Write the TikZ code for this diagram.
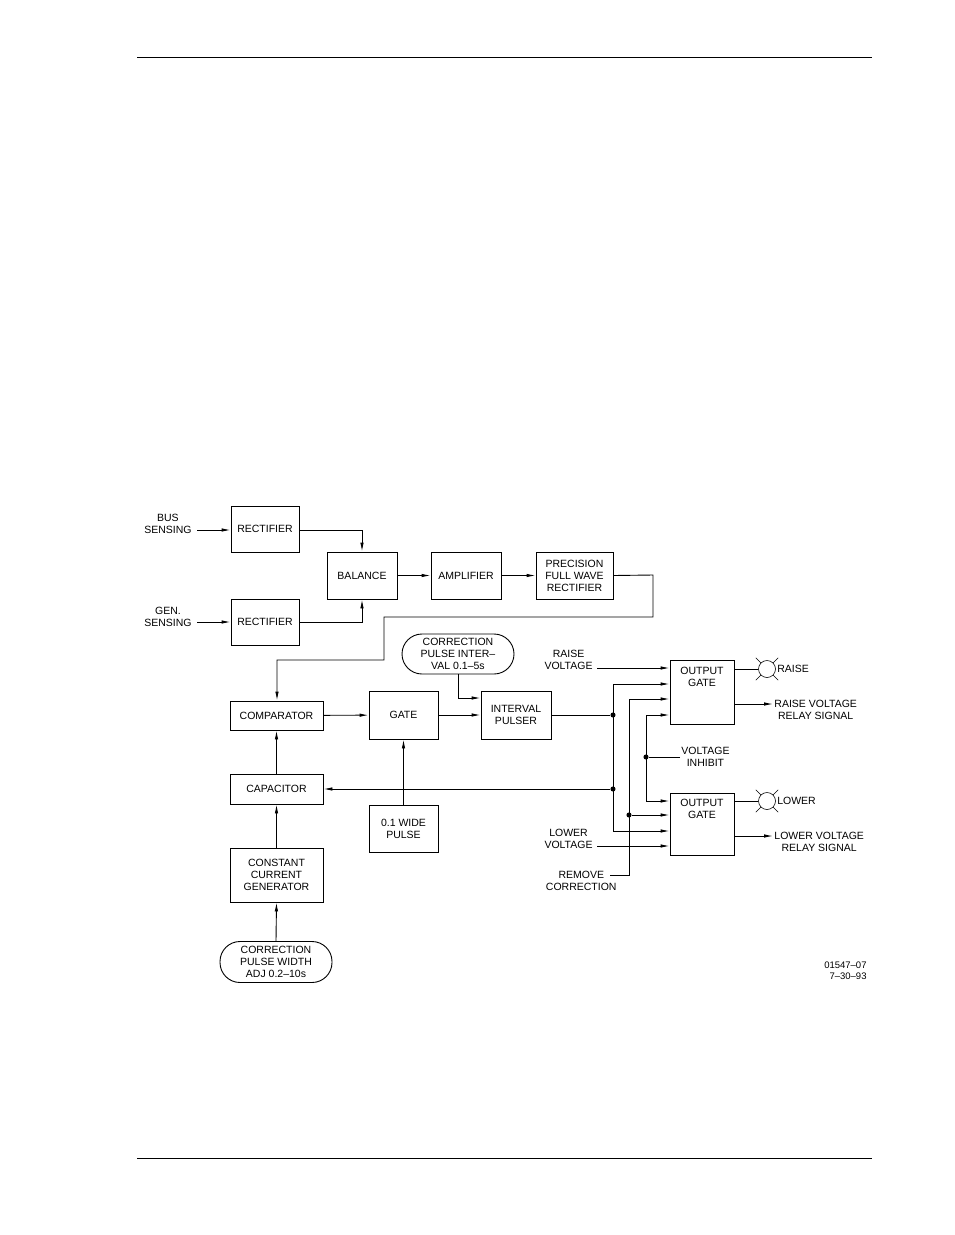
\documentclass[tikz,border=0pt]{standalone}
\usepackage{fontspec}
\setmainfont{Liberation Sans}
\usetikzlibrary{arrows.meta}
\begin{document}
\begin{tikzpicture}[x=1pt,y=-1pt,line width=0.9pt,
  box/.style={draw,minimum width=#1,inner sep=0pt,align=center,font=\fontsize{10.5}{12}\selectfont},
  lbl/.style={align=center,font=\fontsize{10.5}{12}\selectfont,inner sep=1pt},
  ar/.style={-{Latex[length=9pt,width=3.5pt]}},
  dot/.style={circle,fill,inner sep=1.8pt}]
\useasboundingbox (0,0) rectangle (954,1235);
\draw[line width=0.6pt] (137,57) -- (872,57);
\draw[line width=0.6pt] (137,1158) -- (872,1158);
\newcommand{\bx}[6]{\node[box=#4-#2, minimum height=#5-#3] (#1) at ({(#2+#4)/2},{(#3+#5)/2}) {#6};}
\bx{r1}{231}{506}{299}{552}{RECTIFIER}
\bx{r2}{231}{599}{299}{645}{RECTIFIER}
\bx{bal}{327}{552}{397}{599}{BALANCE}
\bx{amp}{431}{552}{501}{599}{AMPLIFIER}
\bx{pre}{536}{552}{613}{599}{PRECISION\\FULL WAVE\\RECTIFIER}
\bx{cmp}{230}{701}{323}{730}{COMPARATOR}
\bx{gate}{369}{691}{438}{739}{GATE}
\bx{ip}{481}{691}{551}{739}{INTERVAL\\PULSER}
\bx{cap}{230}{774}{323}{804}{CAPACITOR}
\bx{wp}{369}{805}{438}{852}{0.1 WIDE\\PULSE}
\bx{ccg}{230}{848}{323}{902}{CONSTANT\\CURRENT\\GENERATOR}
\bx{og1}{670}{660}{734}{724}{OUTPUT\\GATE\\[18pt]}
\bx{og2}{670}{793}{734}{855}{OUTPUT\\GATE\\[18pt]}
\node[box=112, minimum height=41, rounded corners=20pt] (cpw) at (276,962) {CORRECTION\\PULSE WIDTH\\ADJ 0.2--10s};
\node[box=112, minimum height=40, rounded corners=20pt] (cpi) at (458,654) {CORRECTION\\PULSE INTER--\\VAL 0.1--5s};
% inputs
\node[lbl,anchor=east] (bus) at (193,524) {BUS\\SENSING};
\node[lbl,anchor=east] (gen) at (193,617) {GEN.\\SENSING};
\draw[ar] (197,530) -- (r1.west|-0,530);
\draw[ar] (197,622) -- (r2.west|-0,622);
\draw[ar] (r1.east|-0,530) -- (362,530) -- (bal.north-|362,0);
\draw[ar] (r2.east|-0,622) -- (362,622) -- (bal.south-|362,0);
\draw[ar] (bal) -- (amp);
\draw[ar] (amp) -- (pre);
\draw[ar] (pre.east) -- (653,575) -- (653,617) -- (384,617) -- (384,660) -- (277,660) -- (cmp.north-|277,0);
\draw[ar] (cmp) -- (gate);
\draw[ar] (gate) -- (ip);
\draw[ar] (cpi.south) -- (458,698) -- (ip.west|-0,698);
\draw[ar] (cap.north) -- (cmp.south);
\draw[ar] (ccg.north) -- (cap.south);
\draw[ar] (cpw.north) -- (ccg.south);
\draw[ar] (wp.north) -- (gate.south-|wp.north);
\node[dot] (d1) at (613,715) {};
\node[dot] (d2) at (613,789) {};
\draw (ip.east) -- (d1);
\draw[ar] (d2) -- (cap.east|-d2);
\draw[ar] (613,831) -- (613,684) -- (og1.west|-0,684);
\draw[ar] (613,831) -- (og2.west|-0,831);
% raise/lower voltage
\node[lbl,anchor=east] (rv) at (594,660) {RAISE\\VOLTAGE};
\draw[ar] (597,668) -- (og1.west|-0,668);
\node[lbl,anchor=east] (lv) at (594,839) {LOWER\\VOLTAGE};
\draw[ar] (597,846) -- (og2.west|-0,846);
% remove correction
\node[lbl,anchor=east] (rc) at (618,881) {REMOVE\\CORRECTION};
\node[dot] (d3) at (629,815) {};
\draw[ar] (610,875) -- (629,875) -- (629,699) -- (og1.west|-0,699);
\draw[ar] (d3) -- (og2.west|-d3);
% voltage inhibit
\node[lbl,anchor=west] (vi) at (680,757) {VOLTAGE\\INHIBIT};
\node[dot] (d4) at (646,757) {};
\draw (vi.west|-0,757) ++(0,0) -- (d4);
\draw[ar] (646,801) -- (646,715) -- (og1.west|-0,715);
\draw[ar] (646,801) -- (og2.west|-0,801);
% lamps
\foreach \n/\y/\t in {l1/669/RAISE,l2/801/LOWER}{
  \node[draw,circle,minimum size=17pt,inner sep=0pt,line width=0.6pt] (\n) at (767,\y) {};
  \draw[line width=0.5pt] (\n.45) -- ++(5,-5) (\n.135) -- ++(-5,-5) (\n.-45) -- ++(5,5) (\n.-135) -- ++(-5,5);
  \draw (734,\y) -- (\n.west);
  \node[lbl,anchor=west] at (\n.east) {\t};
}
\node[lbl,anchor=west] (rs) at (773,710) {RAISE VOLTAGE\\RELAY SIGNAL};
\node[lbl,anchor=west] (ls) at (773,842) {LOWER VOLTAGE\\RELAY SIGNAL};
\draw[ar] (734,704) -- (rs.west|-0,704);
\draw[ar] (734,836) -- (ls.west|-0,836);
\node[lbl,align=right,anchor=east,font=\fontsize{9.5}{11}\selectfont] (id) at (868,971) {01547--07\\7--30--93};
\end{tikzpicture}
\end{document}
